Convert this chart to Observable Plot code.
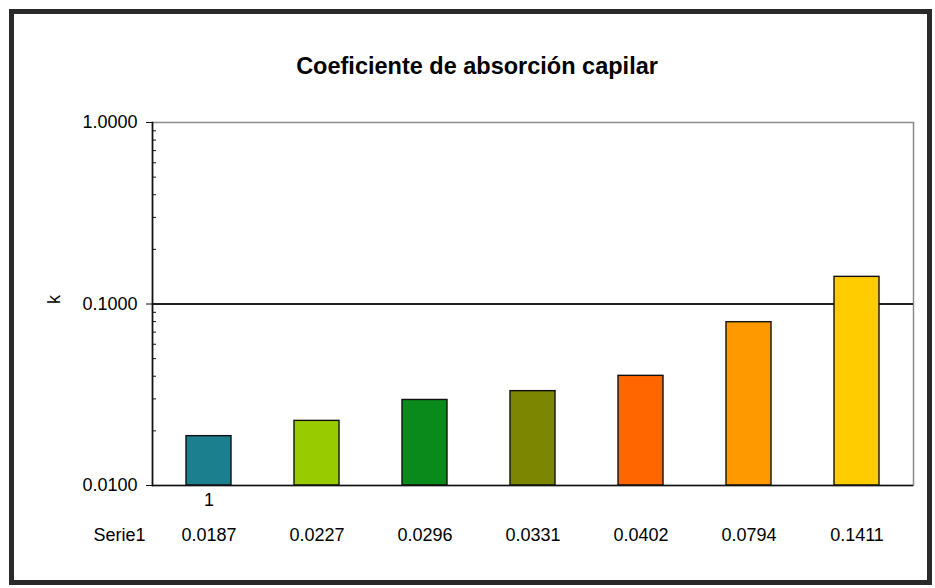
<!DOCTYPE html>
<html>
<head>
<meta charset="utf-8">
<script src="https://cdn.jsdelivr.net/npm/d3@7"></script>
<script src="https://cdn.jsdelivr.net/npm/@observablehq/plot@0.6"></script>
<style>
  html, body { margin: 0; padding: 0; background: #fff; }
  #wrap { position: relative; width: 935px; height: 588px; overflow: hidden; background: #fff; }
  #wrap svg { position: absolute; left: 0; top: 0; }
  #border { position: absolute; left: 9px; top: 9px; width: 923px; height: 576px; box-sizing: border-box; border: 5px solid #2a2a2a; pointer-events: none; }
</style>
</head>
<body>
<div id="wrap"><div id="border"></div></div>
<script>
const title = "Coeficiente de absorción capilar";
const yLabel = "k";
const seriesName = "Serie1";
const points = [1, 2, 3, 4, 5, 6, 7];
const values = [0.0187, 0.0227, 0.0296, 0.0331, 0.0402, 0.0794, 0.1411];
const colors = ["#1b7f8e", "#99cc00", "#0b8a1c", "#7d8600", "#ff6600", "#ff9900", "#ffcc00"];
const xTickLabels = ["1", "", "", "", "", "", ""];
const yDomain = [0.01, 1];
const yMajorTicks = [0.01, 0.1, 1];
const yMinorTicks = [0.02, 0.03, 0.04, 0.05, 0.06, 0.07, 0.08, 0.09, 0.2, 0.3, 0.4, 0.5, 0.6, 0.7, 0.8, 0.9];
const gridValues = [0.1];

const data = points.map((p, i) => ({point: p, value: values[i], color: colors[i]}));
const fmt4 = d3.format(".4f");

const chart = Plot.plot({
  width: 935,
  height: 588,
  marginTop: 122,
  marginBottom: 103,
  marginLeft: 152,
  marginRight: 22,
  style: {fontFamily: "'Liberation Sans', Arial, sans-serif", fontSize: "18px", color: "#000", background: "transparent"},
  x: {type: "band", domain: points, paddingInner: 0.58, paddingOuter: 0.29},
  y: {type: "log", domain: yDomain},
  color: {type: "identity"},
  marks: [
    Plot.frame({stroke: "#8a8a8a", strokeWidth: 1.5}),
    Plot.ruleY(gridValues, {stroke: "#222", strokeWidth: 1.8}),
    Plot.barY(data, {x: "point", y1: yDomain[0], y2: "value", fill: "color", stroke: "#111", strokeWidth: 1.4}),
    Plot.ruleY([yDomain[0]], {stroke: "#111", strokeWidth: 1.6}),
    Plot.frame({anchor: "left", stroke: "#111", strokeWidth: 1.6}),
    Plot.axisY(yMinorTicks, {anchor: "left", tickSize: 4, dx: 4, tickFormat: () => "", label: null, stroke: "#111"}),
    Plot.axisY(yMajorTicks, {anchor: "left", tickSize: 6, tickPadding: 9, tickFormat: fmt4, label: null, fontSize: 18, stroke: "#111"}),
    Plot.axisX({anchor: "bottom", tickSize: 0, tickPadding: 8, tickFormat: d => xTickLabels[points.indexOf(d)], label: null, fontSize: 18}),
    Plot.text([title], {frameAnchor: "top", dx: -56, dy: -65, fontSize: 23.5, fontWeight: "bold", fill: "#000"}),
    Plot.text([yLabel], {frameAnchor: "left", dx: -98, rotate: -90, fontSize: 18, fill: "#000"}),
    Plot.text(data, {x: "point", text: d => fmt4(d.value), frameAnchor: "bottom", dy: 55, fontSize: 18, fill: "#000"}),
    Plot.text([seriesName], {frameAnchor: "bottom-left", dx: -7, dy: 55, textAnchor: "end", fontSize: 18, fill: "#000"})
  ]
});
document.getElementById("wrap").insertBefore(chart, document.getElementById("border"));
</script>
</body>
</html>
